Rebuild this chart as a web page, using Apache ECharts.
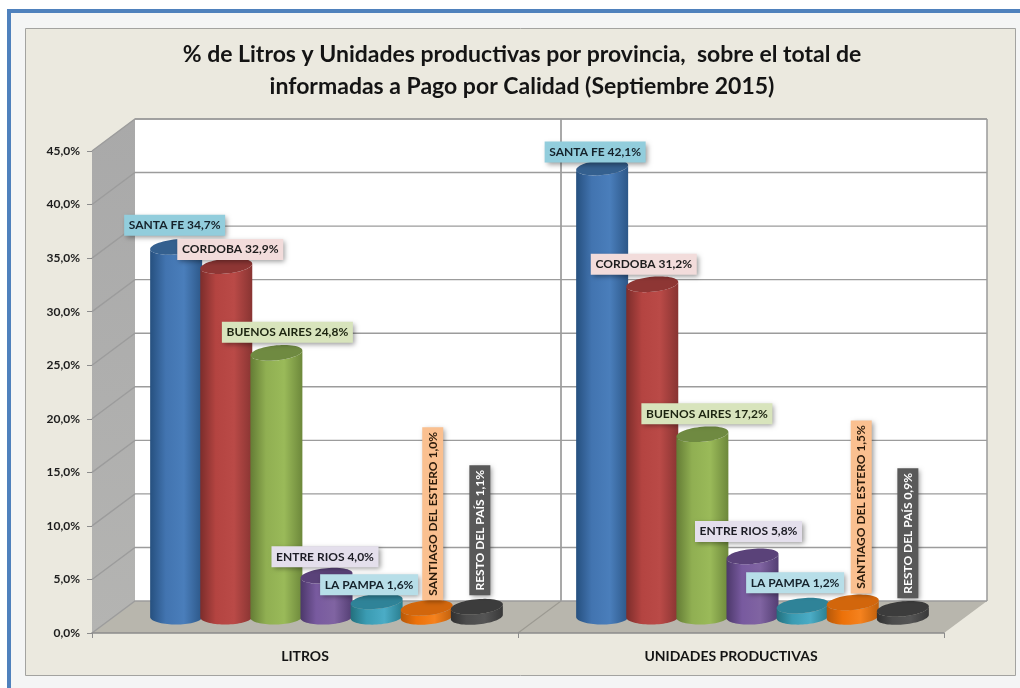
<!DOCTYPE html>
<html><head><meta charset="utf-8">
<style>html,body{margin:0;padding:0;background:#fff;}#c{width:1020px;height:688px;}</style>
<script src="https://cdn.jsdelivr.net/npm/echarts@6/dist/echarts.min.js"></script>
</head><body><div id="c"></div>
<script>
const categories = ['LITROS', 'UNIDADES PRODUCTIVAS'];
const provinces = ['SANTA FE', 'CORDOBA', 'BUENOS AIRES', 'ENTRE RIOS', 'LA PAMPA', 'SANTIAGO DEL ESTERO', 'RESTO DEL PAÍS'];
const litros = [34.7, 32.9, 24.8, 4.0, 1.6, 1.0, 1.1];
const unidades = [42.1, 31.2, 17.2, 5.8, 1.2, 1.5, 0.9];
const yTicks = [0, 5, 10, 15, 20, 25, 30, 35, 40, 45];
const titleText = '% de Litros y Unidades productivas por provincia,  sobre el total de\ninformadas a Pago por Calidad (Septiembre 2015)';

// styling / placement (not data)
const DX = 43, DY = -32, RX = 26, RY = 7.5, PITCH_DIV = 8.5, CAP_TILT = 0.09, SINK = 1.5;
const sideStops = [
  ['#26507f', '#4274b0', '#4a7ebb', '#2c5788'],
  ['#7c2d2b', '#b44441', '#ba4a47', '#883432'],
  ['#647c35', '#90af52', '#9aba59', '#6d883b'],
  ['#4c386a', '#785a9f', '#8064a2', '#533e73'],
  ['#23707d', '#3a9bb2', '#4bacc6', '#297d8e'],
  ['#b5580a', '#ec7109', '#f5821e', '#c0600c'],
  ['#303030', '#4c4c4c', '#555555', '#383838']
];
const capColors = ['#34608f', '#8e3634', '#6f8a41', '#5a4279', '#2f8398', '#d2660c', '#3c3c3c'];
const labelFills = ['#92cddc', '#f2dcdb', '#d8e4bc', '#e4dfec', '#b7dee8', '#fac090', '#595959'];
const labelInk = ['#15222b', '#1c1c1c', '#1c2410', '#1c1c24', '#15222b', '#2a1a0a', '#ffffff'];
const labelVertical = [false, false, false, false, false, true, true];
const labelShift = [
  [[-1.5, -21.5], [4, -16.5], [11, -20.5], [-1.5, -19], [-7.5, -16.5], [6, -94], [3, -76.5]],
  [[-7, -15.5], [-8.5, -20], [4.5, -20.5], [-4, -25], [-7.5, -23], [8.5, -95.5], [5, -75.5]]
];
const labelFont = 'bold 12px Lato, Carlito, sans-serif';
const measure = document.createElement('canvas').getContext('2d');
const comma = v => v.toFixed(1).replace('.', ',');

function center(api, cat, i, v) {
  const band = api.size([1, 0])[0];
  const p = api.coord([cat, v]);
  return [p[0] + DX / 2 + (i - 3) * band / PITCH_DIV, p[1] + DY / 2 + SINK];
}
function ellipse(cx, cy, k, from, to, n) {
  const pts = [];
  for (let j = 0; j <= n; j++) {
    const t = from + (to - from) * j / n;
    const x = RX * Math.cos(t);
    pts.push([cx + x, cy + RY * Math.sin(t) - k * x]);
  }
  return pts;
}
function cylinder(i) {
  return function (params, api) {
    const cat = api.value(0), v = api.value(1);
    const top = center(api, cat, i, v), bot = center(api, cat, i, 0);
    const kb = i * 0.014;
    const pts = ellipse(bot[0], bot[1] - SINK, kb, Math.PI, 0, 36).concat(ellipse(top[0], top[1], CAP_TILT, 0, Math.PI, 36));
    const st = sideStops[i];
    return { type: 'group', children: [
      { type: 'polygon', shape: { points: pts }, style: { fill: { type: 'linear', x: 0, y: 0, x2: 1, y2: 0, colorStops: [
        { offset: 0, color: st[0] }, { offset: 0.3, color: st[1] }, { offset: 0.65, color: st[2] }, { offset: 1, color: st[3] }] } } },
      { type: 'polygon', shape: { points: ellipse(top[0], top[1], CAP_TILT, 0, Math.PI * 2, 60) }, style: { fill: capColors[i] } }
    ] };
  };
}
function renderScene(params, api) {
  const band = api.size([1, 0])[0];
  const a = api.coord([0, 0]), t = api.coord([0, yTicks[yTicks.length - 1]]), m = api.coord([1, 0]);
  const x0 = a[0] - band / 2, xm = a[0] + band / 2, x1 = m[0] + band / 2, y0 = a[1], yt = t[1];
  const line = '#9a9a9a';
  const seg = (x1_, y1_, x2_, y2_, c, w) => ({ type: 'line', shape: { x1: x1_, y1: y1_, x2: x2_, y2: y2_ }, style: { stroke: c || line, lineWidth: w || 1.5 } });
  return { type: 'group', children: [
    { type: 'polygon', shape: { points: [[x0 + DX, yt + DY], [x1 + DX, yt + DY], [x1 + DX, y0 + DY], [x0 + DX, y0 + DY]] }, style: { fill: '#ffffff' } },
    { type: 'polygon', shape: { points: [[x0, yt], [x0 + DX, yt + DY], [x0 + DX, y0 + DY], [x0, y0]] }, style: { fill: { type: 'linear', x: 0, y: 0, x2: 0, y2: 1, colorStops: [{ offset: 0, color: '#a9a9a9' }, { offset: 1, color: '#b4b4b2' }] } } },
    { type: 'polygon', shape: { points: [[x0, y0], [x0 + DX, y0 + DY], [x1 + DX, y0 + DY], [x1, y0]] }, style: { fill: '#b8b6ad' } },
    seg(x0 + DX, yt + DY, x1 + DX, yt + DY),
    seg(x1 + DX, yt + DY, x1 + DX, y0 + DY),
    seg(xm + DX, yt + DY, xm + DX, y0 + DY, '#8c8c8c', 1.5),
    seg(xm, y0, xm + DX, y0 + DY, '#9c9a92', 1.2)
  ] };
}
function renderGrid(params, api) {
  const band = api.size([1, 0])[0];
  const v = api.value(1), a = api.coord([0, v]), m = api.coord([1, v]);
  const x0 = a[0] - band / 2, x1 = m[0] + band / 2, y = a[1];
  return { type: 'polyline', shape: { points: [[x0, y], [x0 + DX, y + DY], [x1 + DX, y + DY]] }, style: { fill: null, stroke: '#9c9c9c', lineWidth: 1.4 } };
}
function renderLabel(params, api) {
  const cat = api.value(0), i = api.value(2), v = api.value(1);
  const c = center(api, cat, i, v), sh = labelShift[cat][i];
  const text = provinces[i] + ' ' + comma(v) + '%';
  measure.font = labelFont;
  const w = Math.round(measure.measureText(text).width) + 9, h = 21;
  return { type: 'group', x: c[0] + sh[0], y: c[1] + sh[1], rotation: labelVertical[i] ? Math.PI / 2 : 0, children: [
    { type: 'rect', shape: { x: -w / 2, y: -h / 2, width: w, height: h }, style: { fill: labelFills[i], shadowBlur: 5, shadowOffsetX: 2, shadowOffsetY: 2, shadowColor: 'rgba(0,0,0,0.4)' } },
    { type: 'text', style: { x: 0, y: 0, text: text, font: labelFont, fill: labelInk[i], textAlign: 'center', textVerticalAlign: 'middle' } }
  ] };
}

const point = (i) => [[0, litros[i]], [1, unidades[i]]];
const labelData = [];
provinces.forEach((p, i) => { labelData.push([0, litros[i], i], [1, unidades[i], i]); });

const chart = echarts.init(document.getElementById('c'), null, { renderer: 'canvas' });
chart.setOption({
  animation: false,
  backgroundColor: '#ffffff',
  title: { text: titleText, left: 517, top: 34, textAlign: 'center', textStyle: { fontFamily: 'Lato, Carlito, sans-serif', fontWeight: 'bold', fontSize: 23, lineHeight: 32, color: '#141414' } },
  grid: { left: 92, right: 76, top: 151, bottom: 55, containLabel: false },
  xAxis: { type: 'category', data: categories, axisLine: { lineStyle: { color: '#8c8c8c', width: 1.5 } }, axisTick: { show: true, length: 5, lineStyle: { color: '#8c8c8c' } },
    axisLabel: { margin: 16, fontFamily: 'Lato, Carlito, sans-serif', fontWeight: 'bold', fontSize: 14, color: '#141414' }, z: 3 },
  yAxis: { type: 'value', min: 0, max: 45, interval: 5, splitLine: { show: false }, axisLine: { show: false }, axisTick: { show: true, length: 5, lineStyle: { color: '#8c8c8c' } },
    axisLabel: { margin: 12, fontFamily: 'Lato, Carlito, sans-serif', fontWeight: 'bold', fontSize: 12, color: '#1c1c1c', formatter: v => comma(v) + '%' } },
  graphic: [
    { type: 'rect', z: -10, shape: { x: 0, y: 0, width: 1020, height: 688 }, style: { fill: '#ffffff' } },
    { type: 'rect', z: -10, shape: { x: 7, y: 9, width: 1013, height: 679 }, style: { fill: '#f4f5f5' } },
    { type: 'rect', z: -10, shape: { x: 7, y: 9, width: 1013, height: 4 }, style: { fill: '#4f81bd' } },
    { type: 'rect', z: -10, shape: { x: 7, y: 9, width: 4, height: 679 }, style: { fill: '#4f81bd' } },
    { type: 'rect', z: -10, shape: { x: 25.5, y: 28.5, width: 990, height: 647 }, style: { fill: '#ebe9df', stroke: '#a3a3a0', lineWidth: 1 } }
  ],
  series: [
    { type: 'custom', name: 'escena', silent: true, z: 1, data: [[0, 0]], renderItem: renderScene },
    { type: 'custom', name: 'grilla', silent: true, z: 1, data: yTicks.map(v => [0, v]), renderItem: renderGrid }
  ].concat(provinces.map((p, i) => ({ type: 'custom', name: p, silent: true, z: 4 + i, data: point(i), renderItem: cylinder(i) })))
   .concat([{ type: 'custom', name: 'etiquetas', silent: true, z: 20, data: labelData, renderItem: renderLabel }])
});
</script></body></html>
